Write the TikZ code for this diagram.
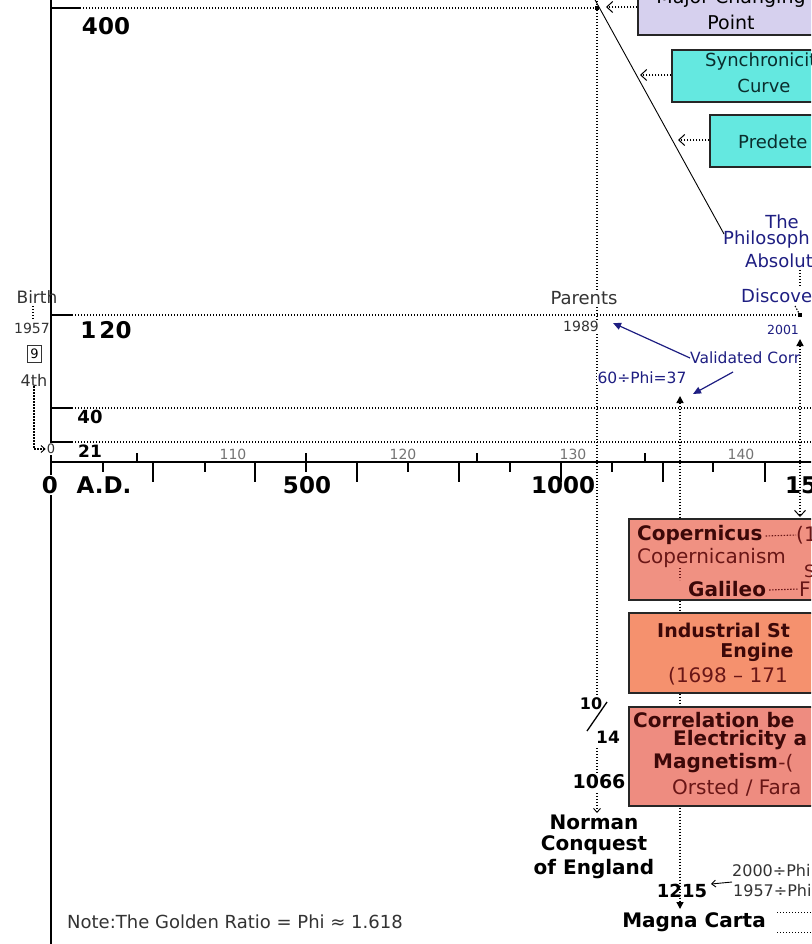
\documentclass[tikz,border=0pt]{standalone}
\usepackage{fontspec}
\setmainfont{DejaVu Sans}
\usetikzlibrary{arrows.meta}
\newcommand\fsz[1]{\fontsize{#1}{#1}\selectfont}
\definecolor{navy}{RGB}{30,30,130}
\definecolor{lav}{RGB}{214,208,238}
\definecolor{aqua}{RGB}{100,232,224}
\definecolor{coper}{RGB}{240,145,130}
\definecolor{indus}{RGB}{245,145,110}
\definecolor{correl}{RGB}{238,140,128}
\definecolor{maroon}{RGB}{60,8,8}
\definecolor{brn}{RGB}{105,22,22}
\definecolor{teal}{RGB}{10,45,45}
\begin{document}
\begin{tikzpicture}[x=1pt,y=-1pt,
  dotln/.style={line width=1.4pt,dash pattern=on 1.4pt off 1.6pt},
  solidln/.style={line width=2pt},
  tickln/.style={line width=1.6pt},
  lbl/.style={inner sep=0pt},
  bnum/.style={lbl,font=\fsz{23}\bfseries},
  smalltxt/.style={lbl,text=black!80},
  bluetxt/.style={lbl,font=\fsz{18},text=navy},
  boxbold/.style={lbl,font=\fsz{20}\bfseries,text=maroon},
  boxreg/.style={lbl,font=\fsz{20},text=brn},
  cyantxt/.style={lbl,font=\fsz{18},text=teal},
  agetxt/.style={lbl,font=\fsz{14},text=black!55},
  evtxt/.style={lbl,font=\fsz{20}\bfseries,text=black},
  ebox/.style={draw=black!85,line width=1.5pt,inner sep=0pt},
  openarr/.style={-{Straight Barb[length=6pt,width=11pt,line width=1pt]}},
  smallarr/.style={-{Straight Barb[length=4pt,width=7pt,line width=0.9pt]}},
]
\useasboundingbox (0,0) rectangle (811,944);
\clip (0,0) rectangle (811,944);
\fill[white] (0,0) rectangle (811,944);

% ---- axes ----
\coordinate (vaxT) at (51,-2);
\coordinate (vaxB) at (51,946);
\coordinate (haxL) at (50,462);
\coordinate (haxR) at (813,462);
\draw[solidln] (vaxT) -- (vaxB);
\draw[solidln] (haxL) -- (haxR);
\foreach \x in {153,255,357,459,561,663,765} \draw[tickln] (\x,462) -- (\x,482);
\foreach \x in {103,205,306,408,510,612,713} \draw[tickln] (\x,462) -- (\x,472);
\foreach \x in {137,306,477,645} \draw[tickln] (\x,462) -- (\x,453);

% ---- level lines ----
\draw[tickln] (51,8) -- (80,8);
\draw[dotln] (80,8) -- (597,8);
\draw[tickln] (51,315) -- (72,315);
\draw[dotln] (72,315) -- (800,315);
\draw[tickln] (51,408) -- (72,408);
\draw[dotln] (72,408) -- (813,408);
\draw[tickln] (51,442) -- (72,442);
\draw[dotln] (72,442) -- (813,442);

% ---- vertical dotted guides ----
\coordinate (g597a) at (597,-2);
\coordinate (g597b) at (597,697);
\draw[dotln] (g597a) -- (g597b);
\coordinate (g680t) at (680,396);
\coordinate (g680b) at (680,909);
\draw[dotln,{Triangle[length=7pt,width=7pt]}-{Triangle[length=7pt,width=7pt]}] (g680t) -- (g680b);
\coordinate (g800t) at (800,339);
\coordinate (g800b) at (800,517);
\draw[dotln,{Triangle[length=7pt,width=7pt]}-{Straight Barb[length=6pt,width=11pt,line width=1pt]}] (g800t) -- (g800b);

% ---- diagonal ----
\coordinate (dg1) at (594,-2);
\coordinate (dg2) at (724,234);
\draw[line width=0.9pt] (dg1) -- (dg2);

% ---- markers ----
\node[fill,inner sep=0pt,minimum size=3.5pt] (sq1) at (597,8) {};
\node[fill,inner sep=0pt,minimum size=3.5pt] (sq2) at (800,315) {};

% ---- top right boxes ----
\node[ebox,fill=lav,minimum width=192pt,minimum height=50pt] (major) at (734,10) {};
\node[ebox,fill=aqua,minimum width=188pt,minimum height=52pt] (sync) at (766,76) {};
\node[ebox,fill=aqua,minimum width=150pt,minimum height=52pt] (pred) at (785,141) {};
\node[lbl,font=\fsz{19},anchor=base] (majorT) at (731,4) {Major Changing};
\node[lbl,font=\fsz{19},anchor=base] (pointT) at (731,30) {Point};
\node[cyantxt,anchor=west] (syncT) at (705,62) {Synchronicit};
\node[cyantxt] (curveT) at (764,86) {Curve};
\node[cyantxt,anchor=west] (predT) at (738,142) {Predete};
\coordinate (mtip) at (606,7);
\coordinate (stip) at (640,75);
\coordinate (ptip) at (678,140);
\draw[dotln,openarr] (mtip -| major.west) -- (mtip);
\draw[dotln,openarr] (stip -| sync.west) -- (stip);
\draw[dotln,openarr] (ptip -| pred.west) -- (ptip);

% ---- philosophy text ----
\node[bluetxt] (theT) at (782,222) {The};
\node[bluetxt,anchor=west] (philT) at (723,240) {Philosoph};
\node[bluetxt,anchor=west] (absT) at (745,261) {Absolut};
\node[bluetxt,anchor=west] (discT) at (741,296) {Discove};
\coordinate (ab1) at (800,270);
\coordinate (ab2) at (800,286);
\draw[dotln,line width=1.2pt] (ab1) -- (ab2);
\coordinate (dsc) at (795,306);
\draw[dotln,line width=1.1pt] (dsc) -- (sq2);
\node[lbl,font=\fsz{12.5},text=navy] (y2001) at (783,330) {2001};
\node[lbl,font=\fsz{15.5},text=navy,anchor=west] (valid) at (690,358) {Validated Corr};
\node[lbl,font=\fsz{15.5},text=navy,fill=white,inner sep=1pt] (phi37) at (642,378) {60÷Phi=37};
\coordinate (a1tip) at (613,323);
\coordinate (a2s) at (733,372);
\coordinate (a2tip) at (693,394);
\draw[navy,line width=1.2pt,-{Triangle[length=8pt,width=7pt]}] (valid.west) -- (a1tip);
\draw[navy,line width=1.2pt,-{Triangle[length=8pt,width=7pt]}] (a2s) -- (a2tip);

% ---- left labels ----
\node[bnum] (n400) at (106,26) {400};
\node[bnum] (n120) at (106,330) {1\hspace{3pt}20};
\node[lbl,font=\fsz{18}\bfseries] (n40) at (90,417) {40};
\node[lbl,font=\fsz{17}\bfseries] (n21) at (90,451) {21};
\node[smalltxt,font=\fsz{17}] (birth) at (37,297) {Birth};
\node[smalltxt,font=\fsz{14}] (y1957) at (32,328) {1957};
\node[draw=black!80,line width=0.8pt,inner sep=0pt,minimum width=14pt,minimum height=17pt,font=\fsz{13}] (nine) at (34.5,354) {9};
\node[smalltxt,font=\fsz{16}] (fourth) at (34,380) {4th};
\node[smalltxt,font=\fsz{13},fill=white,inner sep=1pt] (zero) at (51,449) {0};
\coordinate (b1) at (33,306);
\coordinate (b2) at (33,319);
\draw[dotln,line width=1.1pt] (b1) -- (b2);
\draw[dotln,line width=1.1pt,smallarr] (fourth.south) |- (zero.west);
\node[smalltxt,font=\fsz{18},fill=white,inner sep=1pt] (parents) at (584,298) {Parents};
\node[smalltxt,font=\fsz{14},fill=white,inner sep=1pt] (y1989) at (581,326) {1989};

% ---- axis labels ----
\node[bnum,fill=white,inner sep=1pt] (nzero) at (50,485) {0};
\node[bnum] (nad) at (104,485) {A.D.};
\node[bnum] (n500) at (307,485) {500};
\node[bnum] (n1000) at (563,485) {1000};
\node[bnum,anchor=west] (n1500) at (785,485) {15};
\node[agetxt] (a110) at (233,454) {110};
\node[agetxt] (a120) at (403,454) {120};
\node[agetxt] (a130) at (573,454) {130};
\node[agetxt] (a140) at (741,454) {140};

% ---- salmon boxes ----
\node[ebox,fill=coper,minimum width=261pt,minimum height=81pt] (copbox) at (759.5,559.5) {};
\node[ebox,fill=indus,minimum width=261pt,minimum height=80pt] (indbox) at (759.5,653) {};
\node[ebox,fill=correl,minimum width=261pt,minimum height=99pt] (corbox) at (759.5,756.5) {};

\node[boxbold,anchor=west] (copT) at (637,535) {Copernicus};
\node[boxreg,anchor=west] (cop1) at (796,535) {(1};
\draw[dotln,line width=1.1pt,brn] (copT.east) ++(3,1) -- (cop1.west);
\node[boxreg,anchor=west] (copism) at (637,558) {Copernicanism};
\node[boxreg,anchor=west,font=\fsz{17}] (copS) at (804,571) {S};
\node[boxbold,anchor=west] (galT) at (688,589) {Galileo};
\node[boxreg,anchor=west] (galF) at (799,589) {F};
\draw[dotln,line width=1.1pt,brn] (galT.east) ++(3,1) -- (galF.west);
\coordinate (cg1) at (680,568);
\coordinate (cg2) at (680,580);
\draw[dotln,line width=1.1pt,brn] (cg1) -- (cg2);

\node[boxbold,font=\fsz{19}\bfseries,anchor=base west] (indT) at (657,637) {Industrial St};
\node[boxbold,font=\fsz{19}\bfseries,anchor=base] (engT) at (757,657) {Engine};
\node[boxreg,anchor=west] (indY) at (668,676) {(1698 – 171};

\node[boxbold,anchor=west] (corT) at (633,720) {Correlation be};
\node[boxbold,anchor=west] (elecT) at (673,740) {Electricity a};
\node[boxbold,anchor=west] (magT) at (653,763) {Magnetism};
\node[boxreg,anchor=west] (magP) at (magT.east) {-(};
\node[boxreg,anchor=west] (orsT) at (672,788) {Orsted / Fara};

% ---- lower left events ----
\node[lbl,font=\fsz{16}\bfseries] (n10) at (591,704) {10};
\node[lbl,font=\fsz{17}\bfseries] (n14) at (608,737) {14};
\coordinate (sl1) at (607,702);
\coordinate (sl2) at (587,731);
\draw[line width=1.3pt] (sl1) -- (sl2);
\node[lbl,font=\fsz{19}\bfseries] (n1066) at (599,782) {1066};
\coordinate (c14) at (597,748);
\coordinate (c1066) at (597,773);
\draw[dotln] (c14) -- (c1066);
\coordinate (nm1) at (597,793);
\coordinate (nm2) at (597,813);
\draw[dotln,line width=1.2pt,smallarr] (nm1) -- (nm2);
\node[evtxt] (norman) at (594,822) {Norman};
\node[evtxt] (conq) at (594,845) {Conquest};
\node[evtxt] (engl) at (594,869) {of England};
\node[lbl,font=\fsz{18}\bfseries] (n1215) at (682,891) {1215};
\node[evtxt] (magna) at (694,922) {Magna Carta};
\node[smalltxt,font=\fsz{16},anchor=west] (p2000) at (732,871) {2000÷Phi};
\node[smalltxt,font=\fsz{16},anchor=west] (p1957) at (733,891) {1957÷Phi};
\coordinate (pa1) at (732,882);
\coordinate (pa2) at (711,884);
\draw[line width=0.9pt,smallarr] (pa1) -- (pa2);
\coordinate (mg1) at (777,912);
\coordinate (mg2) at (813,912);
\coordinate (mg3) at (777,932);
\coordinate (mg4) at (813,932);
\draw[dotln,line width=1pt] (mg1) -- (mg2);
\draw[dotln,line width=1pt] (mg3) -- (mg4);

% ---- note ----
\node[smalltxt,font=\fsz{18},anchor=west] (note) at (67,922) {Note:The Golden Ratio = Phi ≈ 1.618};
\end{tikzpicture}
\end{document}
